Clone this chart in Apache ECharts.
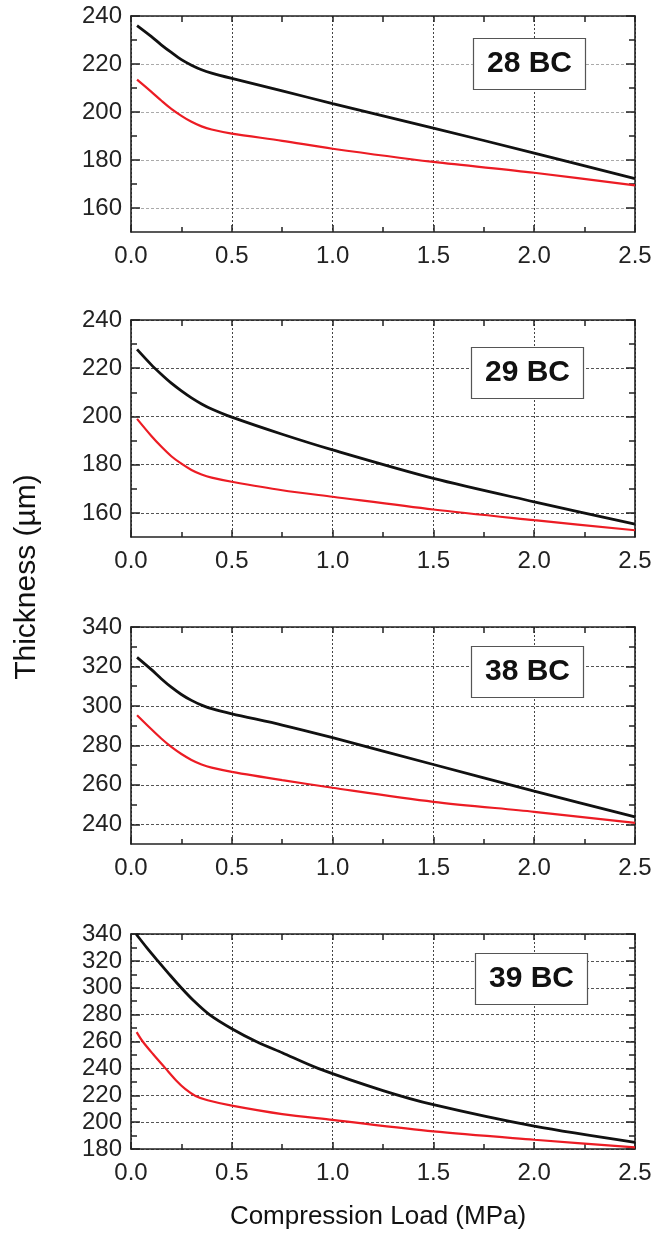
<!DOCTYPE html>
<html>
<head>
<meta charset="utf-8">
<script src="https://cdn.jsdelivr.net/npm/echarts@6/dist/echarts.min.js"></script>
<style>
html,body{margin:0;padding:0;background:#fff;}
#chart{width:670px;height:1233px;}
</style>
</head>
<body>
<div id="chart"></div>
<script>
// ---- data ----
const panelLabels = ['28 BC', '29 BC', '38 BC', '39 BC'];
const xTitle = 'Compression Load (MPa)';
const yTitle = 'Thickness (µm)';

const xCommon = [0.03, 0.1, 0.15, 0.2, 0.25, 0.3, 0.35, 0.4, 0.5, 0.75, 1.0, 1.5, 2.0, 2.5];

const y28Black = [236, 231.5, 228, 224.8, 221.8, 219.5, 217.6, 216.2, 214, 208.8, 203.5, 193.3, 182.9, 172.2];
const y28Red   = [213.5, 208.5, 204.8, 201.3, 198.4, 195.9, 194, 192.7, 191, 188, 184.7, 179.2, 174.7, 169.4];

const y29Black = [227.8, 221.5, 217.5, 213.8, 210.6, 207.7, 205.2, 203.1, 199.7, 192.6, 186.1, 174.3, 164.6, 155.3];
const y29Red   = [199, 192, 187.5, 183.5, 180.4, 177.8, 175.9, 174.6, 172.9, 169.4, 166.7, 161.4, 157, 152.8];

const y38Black = [324.6, 318.5, 313.8, 309.5, 305.8, 302.8, 300.4, 298.6, 296, 290.3, 283.9, 270.3, 256.8, 243.7];
const y38Red   = [295.3, 288.3, 283.5, 279.2, 275.6, 272.6, 270.3, 268.7, 266.6, 262.4, 258.5, 251.4, 246.3, 240.7];

const x39Black = [0.025, 0.08, 0.133, 0.19, 0.249, 0.31, 0.389, 0.5, 0.621, 0.75, 0.928, 1.25, 1.5, 2.0, 2.5];
const y39Black = [340, 329.5, 320, 310, 300, 290.5, 280, 269.5, 260, 251.6, 240, 223.5, 213, 197, 185];
const x39Red   = [0.028, 0.058, 0.11, 0.171, 0.224, 0.27, 0.32, 0.38, 0.5, 0.75, 1.0, 1.5, 2.0, 2.5];
const y39Red   = [267, 260, 250.5, 240, 231, 224.5, 219.5, 216.3, 212.3, 206, 201.7, 193.1, 186.9, 181.2];

const yRanges = [[150, 240], [150, 240], [230, 340], [180, 340]];
const yMajor = [
  [160, 180, 200, 220, 240],
  [160, 180, 200, 220, 240],
  [240, 260, 280, 300, 320, 340],
  [180, 200, 220, 240, 260, 280, 300, 320, 340]
];
const yMinor = [
  [170, 190, 210, 230],
  [170, 190, 210, 230],
  [250, 270, 290, 310, 330],
  [190, 210, 230, 250, 270, 290, 310, 330]
];
const xMin = 0, xMax = 2.5, xStep = 0.5;

const seriesData = [
  [[xCommon, y28Black], [xCommon, y28Red]],
  [[xCommon, y29Black], [xCommon, y29Red]],
  [[xCommon, y38Black], [xCommon, y38Red]],
  [[x39Black, y39Black], [x39Red, y39Red]]
];

// ---- layout / style ----
const gridTops = [16, 320, 627, 934];
const gridHeights = [216, 217, 217, 215];
const boxPos = [[473, 38], [471, 347], [471, 646], [475, 953]];
const hGridColor = ['#aaaaaa', '#555555', '#555555', '#555555'];
const FONT = '"Liberation Sans", Arial, Helvetica, sans-serif';
const lineColors = ['#111111', '#ec1c24'];
const lineWidths = [2.8, 2.2];

const grids = [], xAxes = [], yAxes = [], series = [], titles = [];
const axisLineStyle = {show: true, lineStyle: {color: '#222', width: 1.6}};

for (let i = 0; i < 4; i++) {
  grids.push({left: 131, top: gridTops[i], width: 504, height: gridHeights[i],
    containLabel: false, outerBoundsMode: 'none'});
  const [ymin, ymax] = yRanges[i];
  xAxes.push({
    gridIndex: i, type: 'value', position: 'bottom', min: xMin, max: xMax, interval: xStep,
    axisLine: axisLineStyle,
    axisTick: {show: true, inside: true, length: 7, lineStyle: {color: '#222', width: 1.5}},
    minorTick: {show: true, splitNumber: 2, length: 5, lineStyle: {color: '#222', width: 1.5}},
    axisLabel: {show: true, margin: 12, fontSize: 24, color: '#222', fontFamily: FONT,
      showMinLabel: true, showMaxLabel: true, formatter: v => v.toFixed(1)},
    splitLine: {show: true, lineStyle: {color: '#444', width: 1, type: [2, 2]}}
  });
  xAxes.push({
    gridIndex: i, type: 'value', position: 'top', min: xMin, max: xMax, interval: xStep,
    axisLine: axisLineStyle,
    axisTick: {show: true, inside: true, length: 6, lineStyle: {color: '#222', width: 1.5}},
    minorTick: {show: true, splitNumber: 2, length: 6, lineStyle: {color: '#222', width: 1.5}},
    axisLabel: {show: false}, splitLine: {show: false}
  });
  yAxes.push({
    gridIndex: i, type: 'value', position: 'left', min: ymin, max: ymax,
    axisLine: axisLineStyle,
    axisTick: {show: true, inside: true, length: 9, customValues: yMajor[i], lineStyle: {color: '#222', width: 1.5}},
    axisLabel: {show: true, margin: 9, fontSize: 24, color: '#222', fontFamily: FONT,
      customValues: yMajor[i], showMinLabel: true, showMaxLabel: true},
    splitLine: {show: true, lineStyle: {color: hGridColor[i], width: 1, type: [3, 2]}}
  });
  yAxes.push({
    gridIndex: i, type: 'value', position: 'left', min: ymin, max: ymax,
    axisLine: {show: false},
    axisTick: {show: true, inside: true, length: 6, customValues: yMinor[i], lineStyle: {color: '#222', width: 1.5}},
    axisLabel: {show: false}, splitLine: {show: false}
  });
  yAxes.push({
    gridIndex: i, type: 'value', position: 'right', min: ymin, max: ymax,
    axisLine: axisLineStyle,
    axisTick: {show: true, inside: true, length: 9, customValues: yMajor[i], lineStyle: {color: '#222', width: 1.5}},
    axisLabel: {show: false}, splitLine: {show: false}
  });
  yAxes.push({
    gridIndex: i, type: 'value', position: 'right', min: ymin, max: ymax,
    axisLine: {show: false},
    axisTick: {show: true, inside: true, length: 6, customValues: yMinor[i], lineStyle: {color: '#222', width: 1.5}},
    axisLabel: {show: false}, splitLine: {show: false}
  });

  seriesData[i].forEach((pair, k) => {
    const [xs, ys] = pair;
    series.push({
      type: 'line', xAxisIndex: 2 * i, yAxisIndex: 4 * i,
      data: xs.map((x, j) => [x, ys[j]]),
      showSymbol: false, smooth: 0.3,
      lineStyle: {color: lineColors[k], width: lineWidths[k]},
      z: 5 - k, silent: true, animation: false
    });
  });

  titles.push({
    text: panelLabels[i], left: boxPos[i][0], top: boxPos[i][1],
    padding: [10, 14], borderColor: '#555', borderWidth: 1.2, backgroundColor: '#fff',
    textStyle: {fontSize: 30, fontWeight: 'bold', color: '#111', fontFamily: FONT, lineHeight: 32}
  });
}

const chart = echarts.init(document.getElementById('chart'), null, {renderer: 'canvas'});
chart.setOption({
  backgroundColor: '#fff',
  animation: false,
  title: titles,
  grid: grids,
  xAxis: xAxes,
  yAxis: yAxes,
  series: series,
  graphic: [
    {type: 'text', x: 27, y: 577, rotation: Math.PI / 2,
      style: {text: yTitle, fontSize: 30, fontFamily: FONT, fill: '#111', align: 'center', verticalAlign: 'middle'}},
    {type: 'text', x: 378, y: 1217,
      style: {text: xTitle, fontSize: 26, fontFamily: FONT, fill: '#111', align: 'center', verticalAlign: 'middle'}}
  ]
});
</script>
</body>
</html>
